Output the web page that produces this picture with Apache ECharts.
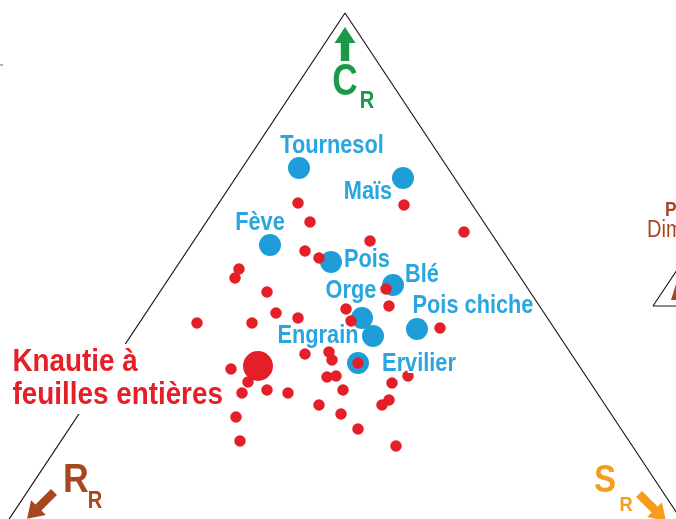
<!DOCTYPE html>
<html>
<head>
<meta charset="utf-8">
<script src="https://cdn.jsdelivr.net/npm/echarts@6/dist/echarts.min.js"></script>
<style>
  html, body { margin: 0; padding: 0; background: #fff; }
  #chart { width: 676px; height: 519px; }
</style>
</head>
<body>
<div id="chart"></div>
<script>
// plan du triangle CSR (unités = pixels de la figure, y vers le bas)
const triangleX = [345, -18, 708, 345];
const triangleY = [13, 560, 560, 13];

// cultures (points bleus)
const cropNames = ['Tournesol', 'Maïs', 'Fève', 'Pois', 'Blé', 'Orge', 'Pois chiche', 'Engrain', 'Ervilier'];
const cropX = [299, 403, 270, 331, 393, 362, 417, 373, 358];
const cropY = [168, 178, 245, 262, 285, 318, 329, 336, 363];

// adventices (points rouges)
const weedX = [298, 404, 310, 464, 370, 305, 319, 239, 235, 386, 267, 389, 346, 276, 298, 351, 197, 252, 440, 329,
  305, 332, 358, 231, 327, 336, 408, 248, 392, 343, 267, 242, 288, 389, 382, 319, 341, 236, 358, 240, 396];
const weedY = [203, 205, 222, 232, 241, 251, 258, 269, 278, 289, 292, 306, 309, 313, 318, 321, 323, 323, 328, 352,
  354, 360, 363, 369, 377, 376, 376, 382, 383, 390, 390, 393, 393, 400, 405, 405, 414, 417, 429, 441, 446];

// Knautie à feuilles entières
const knautieName = 'Knautie à\nfeuilles entières';
const knautieX = [258];
const knautieY = [366];

const sans = "'Liberation Sans', Arial, sans-serif";
const squeeze = 0.87;   // police condensée imitée
const blueDot = '#1f9dd9';
const blueText = '#29a6df';
const red = '#e41f28';
const green = '#1a9a48';
const brown = '#a8471f';
const orange = '#f59d1c';

// décalage des étiquettes par rapport au centre du point
const labelOffset = {
  'Tournesol': [33, -23],
  'Maïs': [-35, 13],
  'Fève': [-10, -23],
  'Pois': [36, -3],
  'Blé': [29, -11],
  'Orge': [-11, -28],
  'Pois chiche': [56, -24],
  'Engrain': [-55, -1],
  'Ervilier': [61, 0]
};

function arrow(tx, ty, dx, dy, len, color) {
  // flèche pleine : queue (tx,ty), direction (dx,dy)
  const n = Math.sqrt(dx * dx + dy * dy);
  const ux = dx / n, uy = dy / n, px = -uy, py = ux;
  const head = 16, hw = 10.5, sw = 4.2;
  const bx = tx + ux * (len - head), by = ty + uy * (len - head);
  const pts = [
    [tx + px * sw, ty + py * sw],
    [bx + px * sw, by + py * sw],
    [bx + px * hw, by + py * hw],
    [tx + ux * len, ty + uy * len],
    [bx - px * hw, by - py * hw],
    [bx - px * sw, by - py * sw],
    [tx - px * sw, ty - py * sw]
  ];
  return { type: 'polygon', shape: { points: pts }, style: { fill: color }, z: 10 };
}

function txt(x, y, text, size, color, opt) {
  opt = opt || {};
  return {
    type: 'text', x: x, y: y, z: 20, scaleX: opt.scale || squeeze,
    style: Object.assign({
      text: text, fill: color,
      font: (opt.weight || 'bold') + ' ' + size + 'px ' + sans,
      align: opt.align || 'center', verticalAlign: 'middle'
    }, opt.style || {})
  };
}

const chart = echarts.init(document.getElementById('chart'));

chart.setOption({
  animation: false,
  grid: { left: 0, right: 0, top: 0, bottom: 0 },
  xAxis: { type: 'value', min: 0, max: 676, show: false },
  yAxis: { type: 'value', min: 0, max: 519, inverse: true, show: false },
  series: [
    {
      type: 'line',
      data: triangleX.map((x, i) => [x, triangleY[i]]),
      symbol: 'none',
      clip: true,
      lineStyle: { color: '#1a1a1a', width: 1.2 },
      z: 1
    },
    {
      name: 'Cultures',
      type: 'scatter',
      symbolSize: 22,
      itemStyle: { color: blueDot, opacity: 1 },
      data: cropNames.map((name, i) => ({ name: name, value: [cropX[i], cropY[i]] })),
      z: 2
    },
    {
      name: 'Adventices',
      type: 'scatter',
      symbolSize: 11.5,
      itemStyle: { color: red, opacity: 1 },
      data: weedX.map((x, i) => [x, weedY[i]]),
      z: 3
    },
    {
      name: 'Knautie à feuilles entières',
      type: 'scatter',
      symbolSize: 30,
      itemStyle: { color: red, opacity: 1 },
      data: knautieX.map((x, i) => [x, knautieY[i]]),
      z: 4
    }
  ]
});

// étiquettes placées via l'échelle du graphique
const labels = cropNames.map((name, i) => {
  const p = chart.convertToPixel({ gridIndex: 0 }, [cropX[i], cropY[i]]);
  const o = labelOffset[name];
  return txt(p[0] + o[0], p[1] + o[1] + 1, name, 25, blueText, {
    style: { stroke: '#fff', lineWidth: 4, strokeFirst: true }
  });
});
const kp = chart.convertToPixel({ gridIndex: 0 }, [knautieX[0], knautieY[0]]);
labels.push(txt(kp[0] - 249, kp[1] + 13, knautieName, 32, red, {
  align: 'left',
  style: { lineHeight: 33, backgroundColor: '#fff', padding: [2, 2, 2, 4] }
}));

chart.setOption({
  graphic: labels.concat([
    arrow(345, 61, 0, -1, 34, green),
    txt(345, 83, 'C', 44, green, { scale: 0.8 }),
    txt(367, 102, 'R', 23, green),
    arrow(54, 492, -1, 1, 38, brown),
    txt(76, 481, 'R', 41, brown),
    txt(95, 502, 'R', 23, brown),
    arrow(639, 494, 1, 1, 38, orange),
    txt(605, 482, 'S', 38, orange),
    txt(626, 505, 'R', 21, orange),
    txt(665, 210, 'Profil', 20, brown, { align: 'left' }),
    txt(647, 231, 'Dimension', 23, brown, { align: 'left', weight: 'normal' }),
    { type: 'polyline', shape: { points: [[653, 306], [700, 306]] }, style: { stroke: '#1a1a1a', lineWidth: 1.2 } },
    { type: 'polyline', shape: { points: [[653, 306], [693, 246]] }, style: { stroke: '#1a1a1a', lineWidth: 1.2 } },
    { type: 'polygon', shape: { points: [[671, 300], [676, 300], [676, 284]] }, style: { fill: brown } },
    { type: 'line', shape: { x1: 0, y1: 65, x2: 3, y2: 65 }, style: { stroke: '#666', lineWidth: 1 } }
  ])
});
</script>
</body>
</html>
